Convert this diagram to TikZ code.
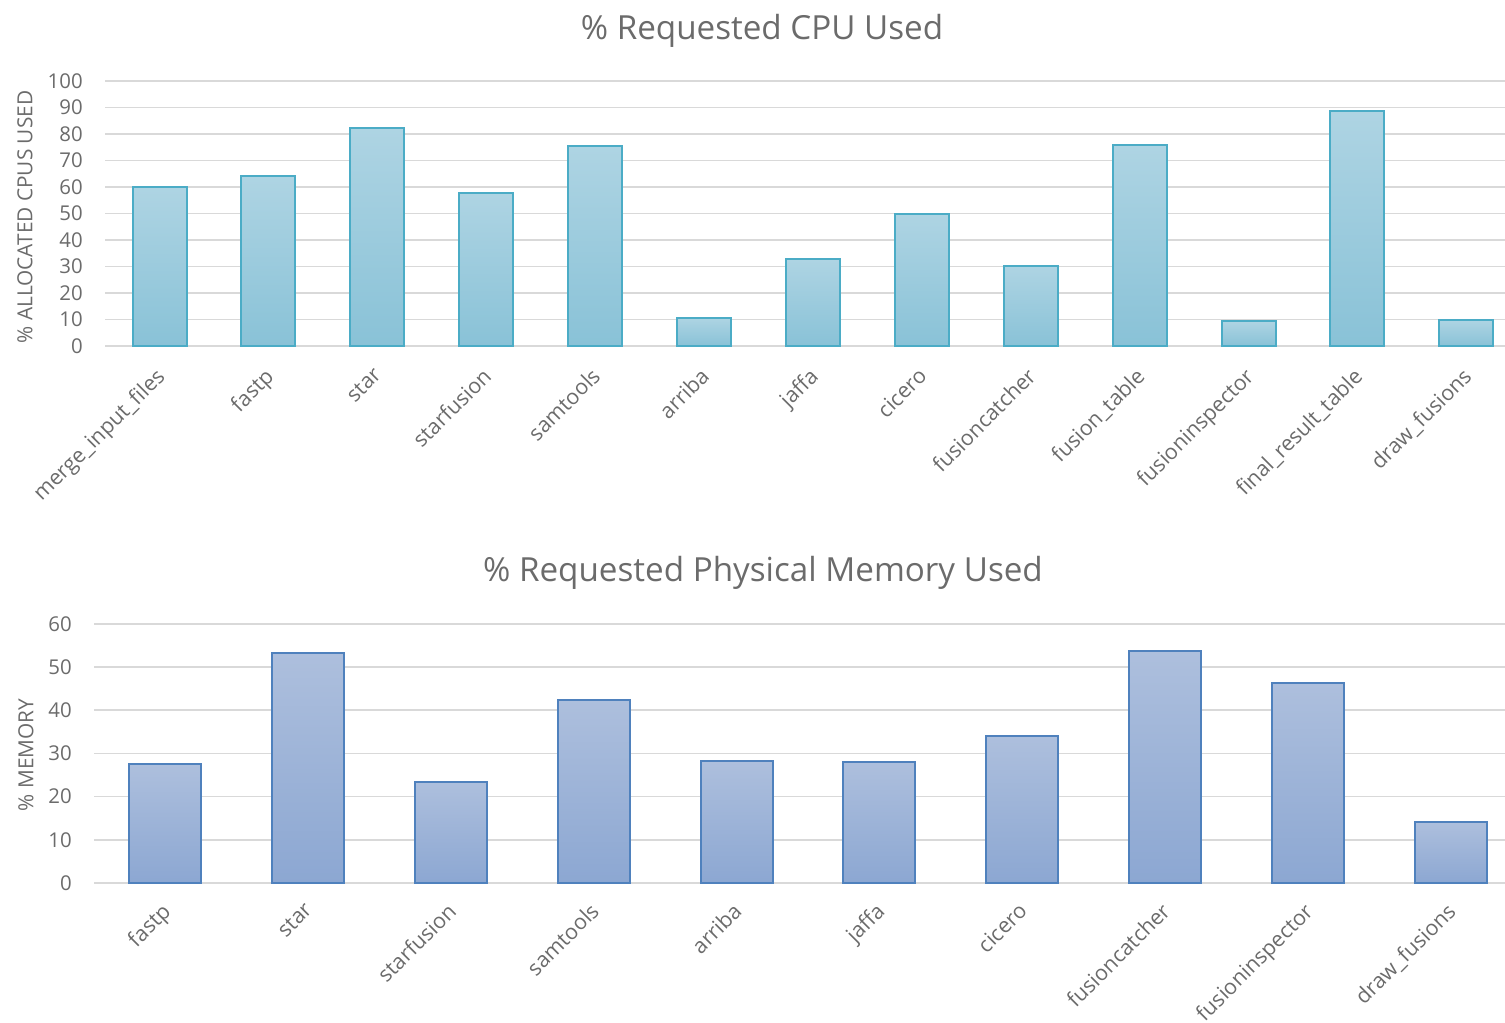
\documentclass[tikz,border=0pt]{standalone}
\usepackage{fontspec}
\setmainfont{Open Sans}
\usepackage{xcolor}
\usepackage{tikz}

\definecolor{txtgray}{HTML}{6B6B6B}
\definecolor{gridgray}{HTML}{D9D9D9}
\definecolor{cpuedge}{HTML}{4BACC6}
\definecolor{cputop}{HTML}{AED4E3}
\definecolor{cpubot}{HTML}{89C2D7}
\definecolor{memedge}{HTML}{4F81BD}
\definecolor{memtop}{HTML}{ADBFDD}
\definecolor{membot}{HTML}{8CA7D2}

\tikzset{
	gridline/.style={gridgray, line width=1.3pt},
	cpubar/.style={draw=cpuedge, line width=1.5pt, top color=cputop, bottom color=cpubot},
	membar/.style={draw=memedge, line width=1.5pt, top color=memtop, bottom color=membot},
	ticklabel/.style={txtgray, font=\fontsize{15.3}{18}\selectfont, anchor=east, inner sep=0pt},
	catlabel/.style={txtgray, font=\fontsize{16}{19}\selectfont, rotate=45, anchor=north east, inner sep=0pt},
	axistitle/.style={txtgray, font=\fontsize{15.6}{19}\selectfont, rotate=90, inner sep=0pt},
	charttitle/.style={txtgray, font=\fontsize{24.9}{30}\selectfont, inner sep=0pt},
}

\begin{document}
\begin{tikzpicture}[x=0.75pt, y=-0.75pt]
	\useasboundingbox (0,0) rectangle (1505,1022);
	% cpu chart
	\node[charttitle] (cputitle) at (762,31) {\% Requested CPU Used};
	\node[axistitle] (cpuaxis) at (25,217) {\% ALLOCATED CPUS USED};
	\foreach \v [count=\i from 0] in {0,10,...,100}
	{
		\draw[gridline] (105,{346-2.65*\v}) -- (1505,{346-2.65*\v});
		\node[ticklabel] (cputick\i) at (83,{346-2.65*\v}) {\v};
	}
	\foreach \name/\val [count=\i from 0] in {merge\_input\_files/60, fastp/64, star/82.4, starfusion/57.8, samtools/75.6, arriba/10.7, jaffa/32.8, cicero/49.8, fusioncatcher/30.3, fusion\_table/75.8, fusioninspector/9.4, final\_result\_table/88.7, draw\_fusions/9.8}
	{
		\def\x{159.5+108.9*\i}
		\draw[cpubar] ({\x-27},346) rectangle ({\x+27},{346-2.65*\val});
		\node[catlabel] (cpucat\i) at ({\x-5},366) {\name};
	}
	% memory chart
	\node[charttitle] (memtitle) at (763,573) {\% Requested Physical Memory Used};
	\node[axistitle] (memaxis) at (26,755) {\% MEMORY};
	\foreach \v [count=\i from 0] in {0,10,...,60}
	{
		\draw[gridline] (94,{883-4.32*\v}) -- (1505,{883-4.32*\v});
		\node[ticklabel] (memtick\i) at (72,{883-4.32*\v}) {\v};
	}
	\foreach \name/\val [count=\i from 0] in {fastp/27.5, star/53.2, starfusion/23.4, samtools/42.4, arriba/28.2, jaffa/28.0, cicero/34.0, fusioncatcher/53.7, fusioninspector/46.3, draw\_fusions/14.1}
	{
		\def\x{165.4+142.8*\i}
		\draw[membar] ({\x-36},883) rectangle ({\x+36},{883-4.32*\val});
		\node[catlabel] (memcat\i) at ({\x-5},901) {\name};
	}
\end{tikzpicture}
\end{document}
